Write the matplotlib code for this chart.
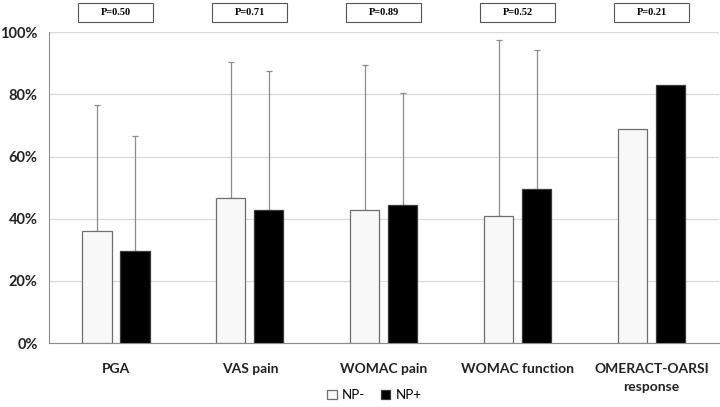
# Grouped bar chart: NP- vs NP+ response rates with one-sided SD bars

import numpy as np
import matplotlib.pyplot as plt
from matplotlib.patches import Rectangle
from matplotlib.ticker import PercentFormatter

# --- DATA ---
categories = ["PGA", "VAS pain", "WOMAC pain", "WOMAC function", "OMERACT-OARSI\nresponse"]
np_minus = [36.0, 46.6, 42.8, 41.0, 68.8]      # %
np_plus = [29.6, 42.7, 44.4, 49.7, 83.1]       # %
np_minus_sd = [40.7, 43.7, 46.6, 56.6, 0.0]    # upper SD
np_plus_sd = [37.1, 44.7, 35.9, 44.6, 0.0]
p_values = ["P=0.50", "P=0.71", "P=0.89", "P=0.52", "P=0.21"]

# --- PLOT ---
plt.rcParams['font.family'] = ['Lato', 'DejaVu Sans']
fig = plt.figure(figsize=(7.2, 4.07), dpi=100)
ax = fig.add_axes([0.068, 0.157, 0.93, 0.764])

x = np.arange(len(categories))
w = 0.218
off = 0.142

ax.bar(x - off, np_minus, w, color='#f8f8f8', edgecolor='#6e6e6e', linewidth=0.9,
       label='NP-', zorder=3)
ax.bar(x + off, np_plus, w, color='black', edgecolor='#3a3a3a', linewidth=0.9,
       label='NP+', zorder=3)

# upward-only error bars (skip zero ones)
for xs, vals, sds in [(x - off, np_minus, np_minus_sd), (x + off, np_plus, np_plus_sd)]:
    for xi, v, s in zip(xs, vals, sds):
        if s > 0:
            ax.errorbar(xi, v, yerr=[[0], [s]], color='#8c8c8c', elinewidth=0.9,
                        capsize=2.5, capthick=0.9, zorder=2)

ax.set_xlim(-0.5, len(categories) - 0.5)
ax.set_ylim(0, 100)
ax.set_yticks(np.arange(0, 101, 20))
ax.yaxis.set_major_formatter(PercentFormatter(decimals=0))
ax.set_xticks(x)
ax.set_xticklabels(categories, fontsize=10, fontweight='bold', color='#222222',
                   linespacing=1.65)
ax.tick_params(axis='y', labelsize=10.5, length=0, pad=8, labelcolor='#222222')
for lbl in ax.get_yticklabels():
    lbl.set_fontweight('bold')
ax.tick_params(axis='x', length=0, pad=14)

ax.grid(axis='y', color='#d9d9d9', linewidth=0.9, zorder=0)
for side in ['top', 'right']:
    ax.spines[side].set_visible(False)
ax.spines['left'].set_color('#8c8c8c')
ax.spines['bottom'].set_color('#8c8c8c')

# P-value boxes above each group
box_w = 0.56
for xi, p in zip(x, p_values):
    ax.add_patch(Rectangle((xi - box_w / 2, 103.4), box_w, 6.0, facecolor='white',
                           edgecolor='#555555', linewidth=0.8, clip_on=False))
    ax.text(xi, 106.4, p, ha='center', va='center', fontsize=7.5, fontweight='bold',
            family='Liberation Serif', clip_on=False)

fig.legend(loc='lower center', bbox_to_anchor=(0.52, -0.015), ncol=2, frameon=False,
           fontsize=9.5, handlelength=0.7, handleheight=0.7, columnspacing=1.2,
           handletextpad=0.4)

plt.savefig('out.png', dpi=100)
